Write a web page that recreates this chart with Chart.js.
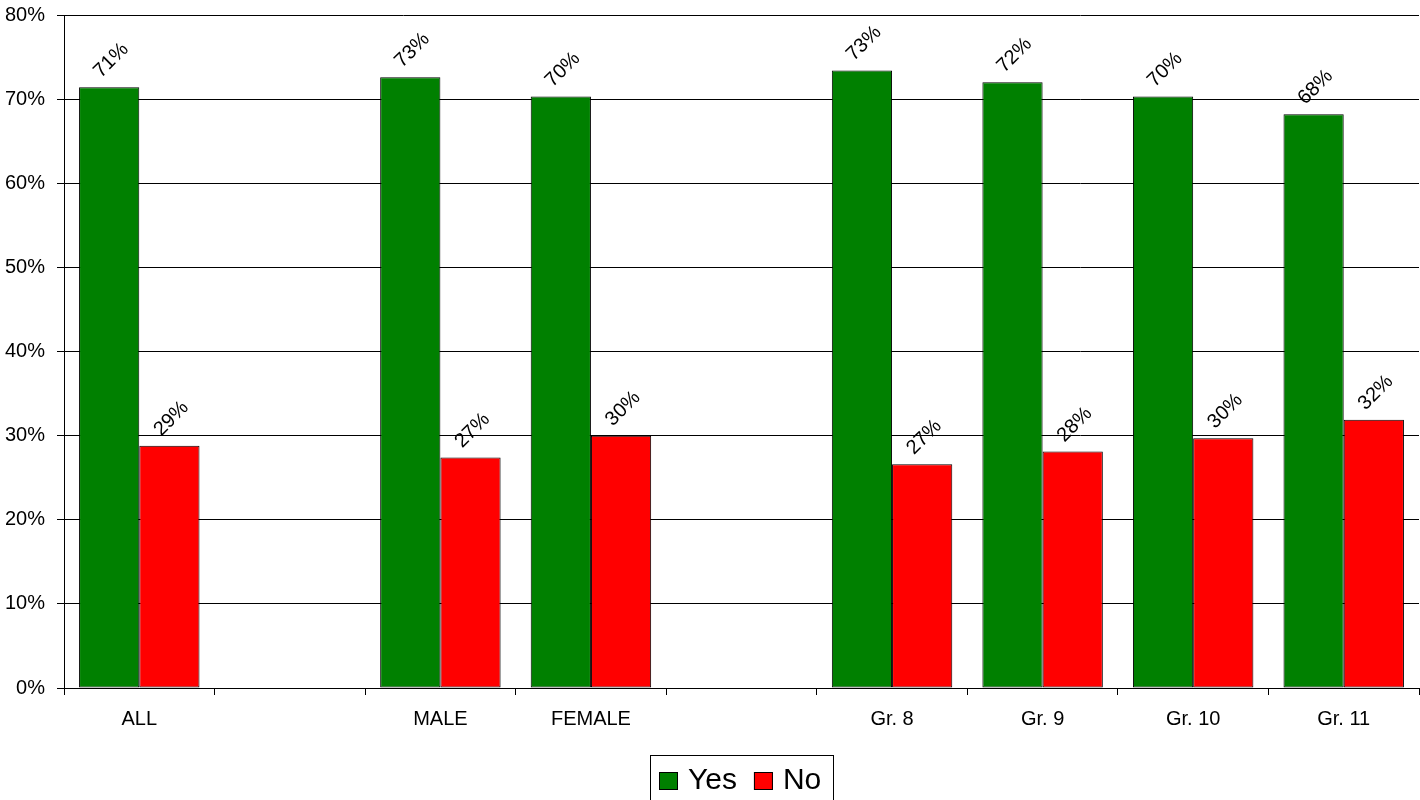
<!DOCTYPE html>
<html>
<head>
<meta charset="utf-8">
<script src="https://cdn.jsdelivr.net/npm/chart.js@4"></script>
<style>
  html, body { margin: 0; padding: 0; background: #fff; }
  #wrap { width: 1420px; height: 800px; }
</style>
</head>
<body>
<div id="wrap"><canvas id="myChart" width="1420" height="800"></canvas></div>
<script>
const categories = ["ALL", "", "MALE", "FEMALE", "", "Gr. 8", "Gr. 9", "Gr. 10", "Gr. 11"]
const yes = [71.4, null, 72.6, 70.3, null, 73.4, 72.0, 70.3, 68.2]
const no = [28.8, null, 27.4, 30.0, null, 26.6, 28.1, 29.7, 31.9]
const yTicks = [0, 10, 20, 30, 40, 50, 60, 70, 80]

const FONT = "Arial, 'Liberation Sans', sans-serif"
Chart.defaults.font.family = FONT
Chart.defaults.color = "#000"

// rotated value labels above each bar
const valueLabels = {
  id: "valueLabels",
  afterDatasetsDraw(chart) {
    const ctx = chart.ctx
    ctx.save()
    ctx.font = "20px " + FONT
    ctx.fillStyle = "#000"
    ctx.textAlign = "center"
    ctx.textBaseline = "middle"
    chart.data.datasets.forEach(function(ds, i) {
      chart.getDatasetMeta(i).data.forEach(function(bar, j) {
        const v = ds.data[j]
        if (v == null) return
        ctx.save()
        ctx.translate(bar.x + 2, bar.y - 27)
        ctx.rotate(-Math.PI / 4)
        ctx.fillText(Math.round(v) + "%", 0, 0)
        ctx.restore()
      })
    })
    ctx.restore()
  }
}

// legend with a frame, under the axis
const boxLegend = {
  id: "boxLegend",
  afterDraw(chart) {
    const ctx = chart.ctx
    const sets = chart.data.datasets
    ctx.save()
    ctx.font = "30px " + FONT
    const sq = 19, gap = 10, between = 17
    let total = 0
    sets.forEach(function(ds, i) {
      total += sq + gap + ctx.measureText(ds.label).width
      if (i < sets.length - 1) total += between
    })
    const padL = 9, padR = 12
    const mid = (chart.chartArea.left + chart.chartArea.right) / 2
    const left = Math.round(mid - (total + padL + padR) / 2)
    const top = 755
    ctx.fillStyle = "#fff"
    ctx.strokeStyle = "#000"
    ctx.lineWidth = 1
    ctx.fillRect(left, top, total + padL + padR, 60)
    ctx.strokeRect(left + 0.5, top + 0.5, Math.round(total + padL + padR), 60)
    let x = left + padL
    const cy = 781
    ctx.textBaseline = "middle"
    ctx.textAlign = "left"
    sets.forEach(function(ds) {
      ctx.fillStyle = ds.backgroundColor
      ctx.fillRect(x, cy - 9, sq, 18)
      ctx.strokeStyle = "#000"
      ctx.strokeRect(x + 0.5, cy - 9 + 0.5, sq - 1, 17)
      x += sq + gap
      ctx.fillStyle = "#000"
      ctx.fillText(ds.label, x, cy)
      x += ctx.measureText(ds.label).width + between
    })
    ctx.restore()
  }
}

const data = {
  labels: categories,
  datasets: [
    { label: "Yes", data: yes, backgroundColor: "#008000", borderColor: "#000", borderWidth: 1,
      borderSkipped: false, barPercentage: 1.0, categoryPercentage: 0.8 },
    { label: "No", data: no, backgroundColor: "#ff0000", borderColor: "#000", borderWidth: 1,
      borderSkipped: false, barPercentage: 1.0, categoryPercentage: 0.8 }
  ]
}

const config = {
  type: "bar",
  data: data,
  options: {
    responsive: false,
    animation: false,
    layout: { padding: { top: 15, right: 1, left: 0, bottom: 62 } },
    plugins: {
      tooltip: { enabled: false },
      legend: { display: false }
    },
    scales: {
      x: {
        grid: { display: true, drawOnChartArea: false, drawTicks: true, tickLength: 7, color: "#000", offset: true },
        border: { color: "#000", width: 1 },
        ticks: { font: { size: 20 }, color: "#000", padding: 12, maxRotation: 0, autoSkip: false },
        afterFit(scale) { scale.height = 50; scale.paddingLeft = 0; scale.paddingRight = 0 }
      },
      y: {
        min: 0,
        max: 80,
        afterBuildTicks(scale) { scale.ticks = yTicks.map(function(v) { return { value: v } }) },
        grid: { color: "#000", lineWidth: 1, tickLength: 7 },
        border: { color: "#000", width: 1 },
        ticks: { font: { size: 20 }, color: "#000", padding: 12, callback: function(v) { return v + "%" } },
        afterFit(scale) { scale.width = 64; scale.paddingTop = 0; scale.paddingBottom = 0 }
      }
    }
  },
  plugins: [valueLabels, boxLegend]
}

const myChart = new Chart(document.getElementById("myChart"), config)
</script>
</body>
</html>
